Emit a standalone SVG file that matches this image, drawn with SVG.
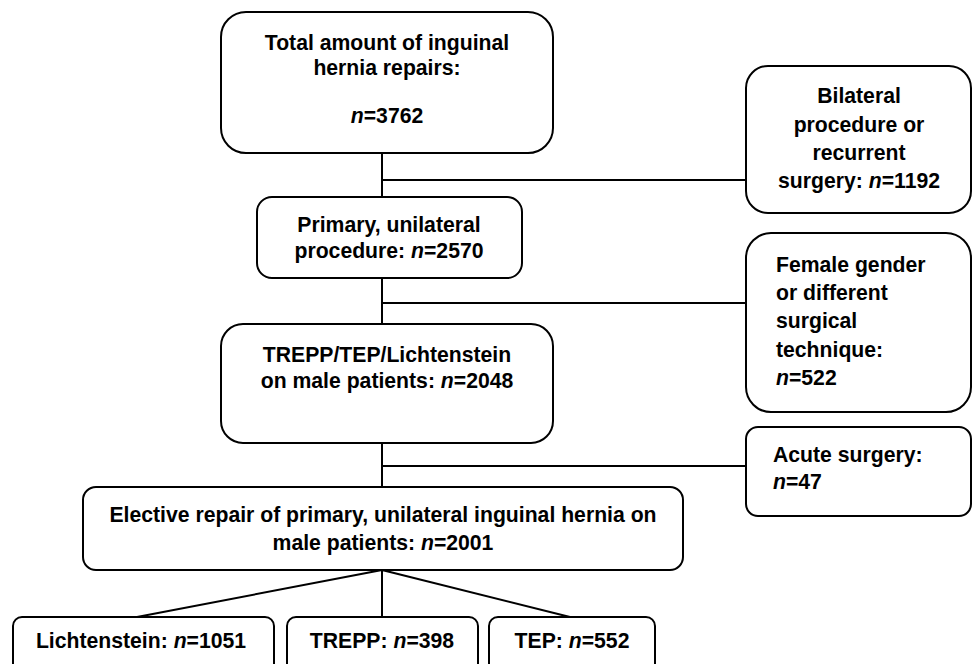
<svg xmlns="http://www.w3.org/2000/svg" width="973" height="664" viewBox="0 0 973 664">
<style>
.box{fill:#fff;stroke:#000;stroke-width:2}
.ln{fill:none;stroke:#000;stroke-width:2}
text{font-family:"Liberation Sans",Arial,sans-serif;font-weight:bold;font-size:21.2px;fill:#000}
.c{text-anchor:middle}
.i{font-style:italic}
</style>
<rect width="973" height="664" fill="#fff"/>
<g id="connectors">
<path class="ln" d="M382 153V324M382 180H746M382 278V324M382 303H746M382 443V487M382 466H746M382 570V617M382 570L137 617M382 570L570 617"/>
</g>
<g id="n1">
<rect class="box" x="221" y="12" width="332" height="141" rx="25"/>
<text class="c" x="387" y="50">Total amount of inguinal</text>
<text class="c" x="387" y="75">hernia repairs:</text>
<text class="c" x="387" y="123"><tspan class="i">n</tspan>=3762</text>
</g>
<g id="n2">
<rect class="box" x="257" y="197" width="265" height="81" rx="15"/>
<text class="c" x="389" y="232">Primary, unilateral</text>
<text class="c" x="389" y="258">procedure: <tspan class="i">n</tspan>=2570</text>
</g>
<g id="n3">
<rect class="box" x="221" y="324" width="332" height="119" rx="22"/>
<text class="c" x="387" y="362">TREPP/TEP/Lichtenstein</text>
<text class="c" x="387" y="388">on male patients: <tspan class="i">n</tspan>=2048</text>
</g>
<g id="n4">
<rect class="box" x="83" y="487" width="600" height="83" rx="13"/>
<text class="c" x="383" y="522">Elective repair of primary, unilateral inguinal hernia on</text>
<text class="c" x="383" y="550">male patients: <tspan class="i">n</tspan>=2001</text>
</g>
<g id="r1">
<rect class="box" x="746" y="66" width="225" height="147" rx="22"/>
<text class="c" x="859" y="103">Bilateral</text>
<text class="c" x="859" y="132">procedure or</text>
<text class="c" x="859" y="160">recurrent</text>
<text class="c" x="859" y="188">surgery: <tspan class="i">n</tspan>=1192</text>
</g>
<g id="r2">
<rect class="box" x="746" y="233" width="225" height="179" rx="25"/>
<text x="776" y="272">Female gender</text>
<text x="776" y="300">or different</text>
<text x="776" y="328">surgical</text>
<text x="776" y="357">technique:</text>
<text x="776" y="385"><tspan class="i">n</tspan>=522</text>
</g>
<g id="r3">
<rect class="box" x="746" y="427" width="225" height="89" rx="12"/>
<text x="773" y="462">Acute surgery:</text>
<text x="773" y="489"><tspan class="i">n</tspan>=47</text>
</g>
<g id="c1">
<rect class="box" x="13" y="617" width="261" height="60" rx="9"/>
<text class="c" x="141" y="648">Lichtenstein: <tspan class="i">n</tspan>=1051</text>
</g>
<g id="c2">
<rect class="box" x="287" y="617" width="191" height="60" rx="9"/>
<text class="c" x="382" y="648">TREPP: <tspan class="i">n</tspan>=398</text>
</g>
<g id="c3">
<rect class="box" x="489" y="617" width="166" height="60" rx="9"/>
<text class="c" x="572" y="648">TEP: <tspan class="i">n</tspan>=552</text>
</g>
</svg>
